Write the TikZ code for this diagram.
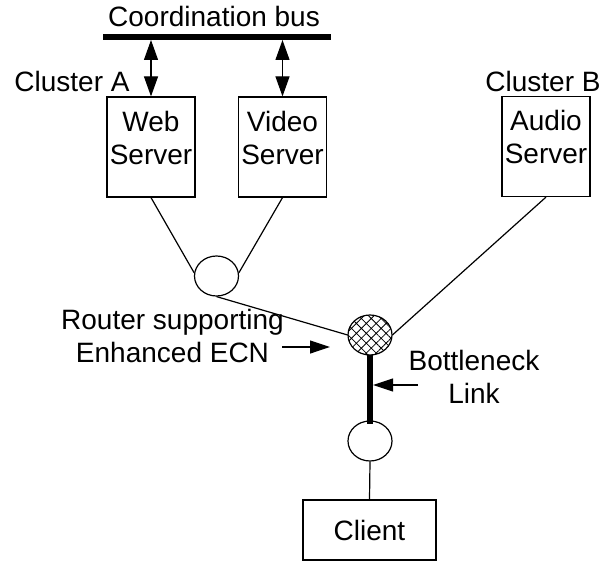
\documentclass[tikz,border=0pt]{standalone}
\usepackage{fontspec}
\setmainfont{Liberation Sans}
\usepackage{tikz}
\usetikzlibrary{arrows.meta, positioning, shapes.geometric, patterns.meta}

\begin{document}
\begin{tikzpicture}[x=1pt, y=-1pt,
    every node/.style={font=\fontsize{28}{33}\selectfont},
    link/.style={line width=1.2pt},
    server/.style={draw, line width=1.2pt, minimum width=88pt, minimum height=100pt,
                   align=center, inner sep=0pt, text depth=19pt},
    hub/.style={draw, ellipse, line width=1.2pt, minimum width=44pt, minimum height=40pt, inner sep=0pt},
    pointer/.style={line width=1.2pt, -{Triangle[length=20pt, width=13pt]}}]
            \useasboundingbox (0,0) rectangle (612,561);

            % Coordination bus
            \coordinate (busL) at (103,37);
            \coordinate (busR) at (331,37);
            \draw[line width=6pt] (busL) -- (busR);
            \node[anchor=base] (buslbl) at (214,27) {Coordination bus};

            % Servers
            \node[server] (web) at (151,147) {Web\\Server};
            \node[server] (video) at (282.5,147) {Video\\Server};
            \node[server] (audio) at (546,146.5) {Audio\\Server};
            \node[anchor=base] (clusterA) at (72,92) {Cluster A};
            \node[anchor=base] (clusterB) at (543,92) {Cluster B};

            % Bus arrows
            \coordinate (busA) at (151,40);
            \coordinate (busB) at (282.5,40);
            \draw[link, {Triangle[length=20pt, width=14pt]}-{Triangle[length=20pt, width=14pt]}] (busA) -- (web.north);
            \draw[link, {Triangle[length=20pt, width=14pt]}-{Triangle[length=20pt, width=14pt]}] (busB) -- (video.north);

            % Routers
            \node[hub] (hubA) at (216.5,276) {};
            \node[hub, pattern={Hatch[angle=45, distance=7pt, line width=0.8pt]}] (router) at (370,335) {};
            \node[hub] (hubB) at (370,441) {};

            % Client
            \node[draw, line width=1.2pt, minimum width=133pt, minimum height=60pt] (client) at (369.5,530) {Client};

            % Links
            \draw[link] (web.south) -- (hubA.172);
            \draw[link] (video.south) -- (hubA.8);
            \draw[link] (hubA.south) -- (router.west);
            \draw[link] (audio.south) -- (router.east);
            \draw[line width=6pt] (router.south) -- ([yshift=-4pt]hubB.north);
            \draw[link] (hubB.south) -- (client.north);

            % Labels
            \node[align=center] (routerlbl) at (172.5,336) {Router supporting\\Enhanced ECN};
            \coordinate (rtail) at (282,347);
            \coordinate (rtip) at (330,347);
            \draw[pointer] (rtail) -- (rtip);

            \node[align=center] (bnlbl) at (474,377) {Bottleneck\\Link};
            \coordinate (btail) at (418,385);
            \coordinate (btip) at (373,385);
            \draw[pointer] (btail) -- (btip);
        \end{tikzpicture}
\end{document}
